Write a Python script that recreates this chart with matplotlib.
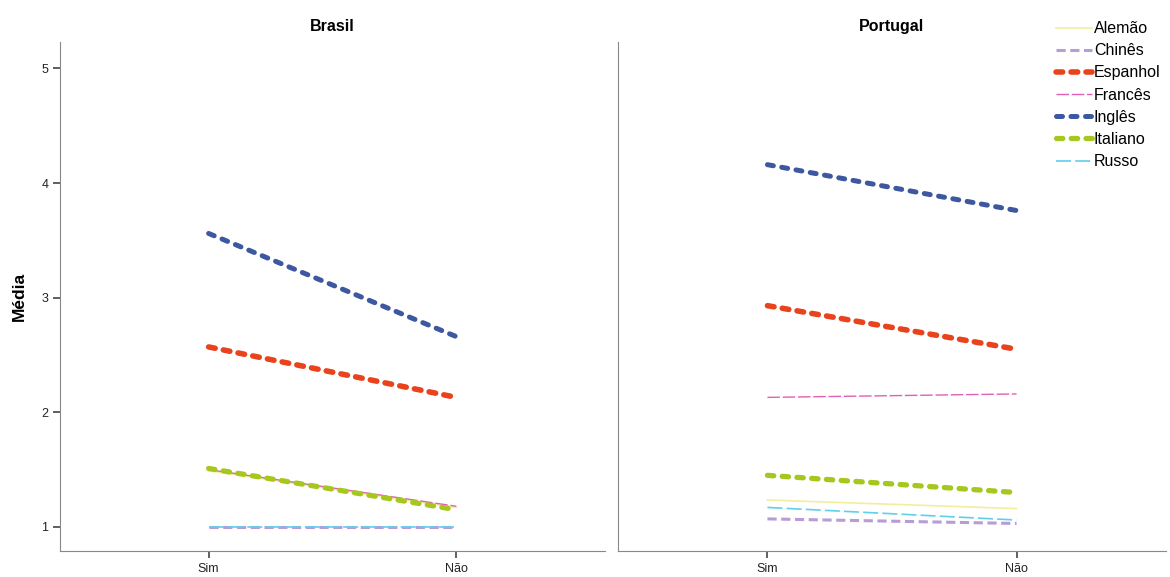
import numpy as np
import matplotlib.pyplot as plt

plt.rcParams['font.family'] = ['Liberation Sans', 'DejaVu Sans']

groups = ['Sim', 'Não']
idiomas = ['Alemão', 'Chinês', 'Espanhol', 'Francês', 'Inglês', 'Italiano', 'Russo']

brasil = {
    'Alemão':   [1.49, 1.17],
    'Chinês':   [1.00, 1.00],
    'Espanhol': [2.57, 2.13],
    'Francês':  [1.50, 1.18],
    'Inglês':   [3.56, 2.66],
    'Italiano': [1.51, 1.15],
    'Russo':    [1.00, 1.00],
}
portugal = {
    'Alemão':   [1.235, 1.16],
    'Chinês':   [1.07, 1.03],
    'Espanhol': [2.93, 2.55],
    'Francês':  [2.13, 2.16],
    'Inglês':   [4.16, 3.76],
    'Italiano': [1.45, 1.30],
    'Russo':    [1.17, 1.06],
}

styles = {
    'Alemão':   dict(color='#f3ee9c', lw=1.2, ls='-'),
    'Chinês':   dict(color='#b99bd6', lw=2.2, ls=(0, (3, 1.5))),
    'Espanhol': dict(color='#e8431c', lw=4.0, ls=(0, (1.2, 1.5))),
    'Francês':  dict(color='#e060b4', lw=1.0, ls=(0, (9, 2))),
    'Inglês':   dict(color='#3d57a0', lw=3.6, ls=(0, (1.2, 1.7))),
    'Italiano': dict(color='#a6c81e', lw=3.8, ls=(0, (1.2, 1.6))),
    'Russo':    dict(color='#5fd0ea', lw=1.2, ls=(0, (9, 2.5))),
}

fig = plt.figure(figsize=(11.7, 5.77), dpi=100)
ax1 = fig.add_axes([60 / 1170, 26 / 577, 545 / 1170, 509 / 577])
ax2 = fig.add_axes([618 / 1170, 26 / 577, 548 / 1170, 509 / 577])

x = np.arange(len(groups))
for ax, data, title in [(ax1, brasil, 'Brasil'), (ax2, portugal, 'Portugal')]:
    for nome in idiomas:
        s = styles[nome]
        ax.plot(x, data[nome], color=s['color'], lw=s['lw'], linestyle=s['ls'],
                label=nome, dash_capstyle='round' if s['lw'] > 3 else 'butt')
    ax.set_xlim(-0.6, 1.6)
    ax.set_ylim(0.79, 5.23)
    ax.set_xticks(x)
    ax.set_xticklabels(groups, fontsize=9, color='#222222')
    ax.set_title(title, fontsize=11.5, fontweight='bold', pad=8)
    for sp in ['top', 'right']:
        ax.spines[sp].set_visible(False)
    for sp in ['left', 'bottom']:
        ax.spines[sp].set_color('#888888')
    ax.tick_params(axis='both', color='#444444', length=5, width=1.2)

ax1.set_yticks([1, 2, 3, 4, 5])
ax1.set_yticklabels(['1', '2', '3', '4', '5'], fontsize=9, color='#222222')
ax1.set_ylabel('Média', fontsize=12.5, fontweight='bold', labelpad=10)
ax2.set_yticks([])

handles, labels = ax1.get_legend_handles_labels()
fig.legend(handles, labels, loc='upper right', bbox_to_anchor=(1.0, 0.98),
           frameon=False, fontsize=11.5, handlelength=2.25, handletextpad=0.1,
           labelspacing=0.45, borderaxespad=0.2)

fig.savefig('out.png', dpi=100)
